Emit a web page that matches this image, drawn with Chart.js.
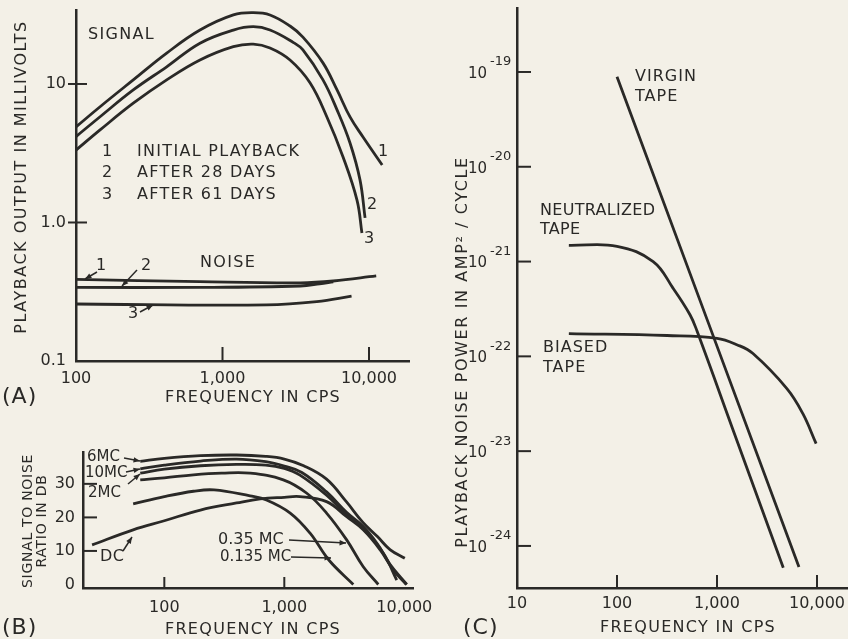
<!DOCTYPE html>
<html>
<head>
<meta charset="utf-8">
<script src="https://cdn.jsdelivr.net/npm/chart.js@4.4.0/dist/chart.umd.min.js"></script>
<style>
  html, body { margin: 0; padding: 0; background: #f3f0e7; }
  #wrap { position: relative; width: 848px; height: 639px; overflow: hidden; }
  #wrap canvas { position: absolute; left: 0; top: 0; }
</style>
</head>
<body>
<div id="wrap">
  <canvas id="chartA" width="848" height="639"></canvas>
  <canvas id="chartB" width="848" height="639"></canvas>
  <canvas id="chartC" width="848" height="639"></canvas>
</div>
<script>
// (A) playback output in millivolts vs frequency
const aSig1Freq = [100, 146, 246, 416, 702, 1186, 1622, 2110, 2890, 3540, 4850, 6050, 7420, 9100, 12300];
const aSig1 = [4.9, 6.85, 10.7, 16.7, 24.5, 31.5, 32.7, 31.5, 26.2, 21.8, 14.2, 9.05, 5.78, 4.14, 2.6];
const aSig2Freq = [100, 146, 246, 416, 702, 1186, 1622, 2110, 3050, 3540, 4850, 6050, 7420, 8680, 9400];
const aSig2 = [4.17, 5.8, 9.05, 13.3, 19.7, 24.5, 25.9, 24.5, 19.9, 17.6, 10.7, 6.5, 3.75, 2.03, 1.08];
const aSig3Freq = [100, 146, 246, 416, 702, 1186, 1622, 2110, 2890, 3955, 5160, 6650, 8280, 8950];
const aSig3 = [3.33, 4.66, 7.26, 10.7, 14.9, 18.6, 19.4, 18.2, 14.9, 10.2, 5.78, 2.97, 1.45, 0.84];
const aNoise1Freq = [100, 700, 3400, 5700, 11200];
const aNoise1 = [0.389, 0.374, 0.367, 0.378, 0.411];
const aNoise2Freq = [100, 700, 3400, 4600, 5700];
const aNoise2 = [0.34, 0.34, 0.348, 0.36, 0.372];
const aNoise3Freq = [100, 2000, 4400, 7600];
const aNoise3 = [0.258, 0.254, 0.268, 0.294];
const aXTicks = [100, 1000, 10000];
const aXTickLabels = ['100', '1,000', '10,000'];
const aYTicks = [0.1, 1, 10];
const aYTickLabels = ['0.1', '1.0', '10'];

// (B) signal to noise ratio in db, one curve per bias frequency
const bFreq6 = [63, 100, 200, 400, 700, 1000, 1450, 2250, 3300, 4500, 6000, 7600, 10100];
const bSnr6 = [36.7, 37.6, 38.4, 38.6, 38.2, 37.4, 35.4, 31.4, 24.6, 18.6, 14.2, 10.4, 7.8];
const bFreq10 = [63, 100, 200, 400, 700, 1000, 1400, 2250, 3300, 4550, 6000, 7600, 10500];
const bSnr10 = [34.5, 35.6, 36.8, 37.4, 36.6, 35.3, 33.4, 27.6, 21.5, 17.3, 12.0, 6.0, 0];
const bFreq2 = [63, 100, 200, 400, 700, 1000, 1350, 2250, 3300, 4550, 6700, 8650];
const bSnr2 = [33.2, 34.4, 35.4, 35.8, 35.6, 34.6, 32.6, 26.6, 20.8, 16.6, 9.3, 1.3];
const bFreq035 = [63, 100, 175, 300, 518, 981, 1540, 2250, 3310, 4550, 6070];
const bSnr035 = [31.2, 31.8, 32.7, 33.2, 33.2, 31.2, 27.2, 21.3, 13.3, 5.3, 0];
const bFreq0135 = [55, 100, 175, 260, 518, 710, 1120, 1640, 2350, 3760];
const bSnr0135 = [24.0, 26.2, 27.8, 28.2, 26.4, 25.2, 21.3, 15.3, 7.3, 0];
const bFreqDC = [25, 55, 100, 200, 400, 630, 1000, 1350, 2250, 3310, 4550, 6300, 8100, 10400];
const bSnrDC = [11.8, 16.3, 19.0, 22.2, 24.3, 25.5, 26.0, 26.2, 24.7, 20.2, 16.3, 10.3, 4.3, 0];
const bXTicks = [100, 1000, 10000];
const bXTickLabels = ['100', '1,000', '10,000'];
const bYTicks = [0, 10, 20, 30];
const bYTickLabels = ['0', '10', '20', '30'];

// (C) playback noise power in amp^2/cycle
const cFreqVirgin = [100, 6600];
const cVirgin = [8.9e-20, 6.0e-25];
const cFreqNeutral = [33, 100, 230, 363, 537, 630, 1500, 4600];
const cNeutral = [1.48e-21, 1.45e-21, 1.0e-21, 5.25e-22, 2.75e-22, 1.86e-22, 1.51e-23, 5.9e-25];
const cFreqBiased = [33, 316, 1000, 1600, 2290, 5000, 7200, 9800];
const cBiased = [1.74e-22, 1.66e-22, 1.55e-22, 1.32e-22, 1.07e-22, 4.57e-23, 2.5e-23, 1.2e-23];
const cXTicks = [10, 100, 1000, 10000];
const cXTickLabels = ['10', '100', '1,000', '10,000'];
const cYTicks = [1e-19, 1e-20, 1e-21, 1e-22, 1e-23, 1e-24];
const cYExp = ['-19', '-20', '-21', '-22', '-23', '-24'];

const W = 848, H = 639;
const ink = '#2a2927';
const fam = '"DejaVu Sans", sans-serif';
Chart.defaults.font.family = fam;
Chart.defaults.color = ink;

function series(xs, ys) {
    return {
        data: xs.map((x, i) => ({ x: x, y: ys[i] })),
        borderColor: ink,
        borderWidth: 2.8,
        pointRadius: 0,
        tension: 0.4,
        fill: false
    };
}

function axis(type, min, max, ticks, labels, size, horizontal, fontSize, pad) {
    return {
        type: type,
        min: min,
        max: max,
        afterBuildTicks: s => { s.ticks = ticks.map(v => ({ value: v })); },
        afterFit: s => {
            if (horizontal) s.height = size; else s.width = size;
            // keep the plot box exactly where it is set
            s.paddingTop = s.paddingBottom = s.paddingLeft = s.paddingRight = 0;
        },
        ticks: {
            display: labels !== null,
            autoSkip: false,
            maxRotation: 0,
            padding: pad,
            font: { size: fontSize },
            callback: (v, i) => labels ? labels[i] : ''
        },
        grid: { display: false, drawTicks: false },
        border: { display: true, color: ink, width: 2.5 }
    };
}

// tick marks drawn inside the axes, plus all lettering on the figure
function makeNotes(n) {
    return {
        id: 'notes',
        afterDraw(chart) {
            const ctx = chart.ctx, xs = chart.scales.x, ys = chart.scales.y;
            ctx.save();
            ctx.strokeStyle = ink;
            ctx.fillStyle = ink;
            ctx.lineWidth = 2;
            (n.xMarks || []).forEach(v => {
                const x = xs.getPixelForValue(v);
                ctx.beginPath(); ctx.moveTo(x, xs.top); ctx.lineTo(x, xs.top - n.xMarkLen); ctx.stroke();
            });
            (n.yMarks || []).forEach(v => {
                const y = ys.getPixelForValue(v);
                ctx.beginPath(); ctx.moveTo(ys.right - (n.yMarkOut || 0), y); ctx.lineTo(ys.right + n.yMarkLen, y); ctx.stroke();
            });
            (n.yExp || []).forEach((e, i) => {
                const y = ys.getPixelForValue(n.yMarks[i]);
                ctx.textBaseline = 'middle';
                ctx.font = '15px ' + fam;
                ctx.textAlign = 'right';
                ctx.fillText('10', ys.right - 30, y + 2);
                ctx.font = '13px ' + fam;
                ctx.textAlign = 'left';
                ctx.fillText(e, ys.right - 27, y - 10);
            });
            ctx.lineWidth = 1.5;
            (n.arrows || []).forEach(a => {
                const [x0, y0] = a[0], [x1, y1] = a[1];
                ctx.beginPath(); ctx.moveTo(x0, y0); ctx.lineTo(x1, y1); ctx.stroke();
                const ang = Math.atan2(y1 - y0, x1 - x0);
                ctx.beginPath();
                ctx.moveTo(x1, y1);
                ctx.lineTo(x1 - 7 * Math.cos(ang - 0.4), y1 - 7 * Math.sin(ang - 0.4));
                ctx.lineTo(x1 - 7 * Math.cos(ang + 0.4), y1 - 7 * Math.sin(ang + 0.4));
                ctx.closePath();
                ctx.fill();
            });
            (n.texts || []).forEach(t => {
                ctx.font = (t.size || 16) + 'px ' + fam;
                ctx.textAlign = t.align || 'left';
                ctx.textBaseline = 'middle';
                ctx.letterSpacing = (t.sp === undefined ? 1.3 : t.sp) + 'px';
                ctx.save();
                ctx.translate(t.at[0], t.at[1]);
                if (t.rot) ctx.rotate(t.rot);
                ctx.fillText(t.t, 0, 0);
                ctx.restore();
            });
            ctx.letterSpacing = '0px';
            ctx.restore();
        }
    };
}

const up = -Math.PI / 2;
const baseOptions = {
    responsive: false,
    animation: false,
    plugins: { legend: { display: false }, tooltip: { enabled: false } }
};

// plot box in page pixels: left, top, right, bottom; y axis width; x axis height
function box(l, t, r, b, yW, xH) {
    return { padding: { left: l - yW, top: t, right: W - r, bottom: H - b - xH } };
}

new Chart(document.getElementById('chartA'), {
    type: 'line',
    data: {
        datasets: [
            series(aSig1Freq, aSig1), series(aSig2Freq, aSig2), series(aSig3Freq, aSig3),
            series(aNoise1Freq, aNoise1), series(aNoise2Freq, aNoise2), series(aNoise3Freq, aNoise3)
        ]
    },
    options: Object.assign({}, baseOptions, {
        layout: box(76, 10, 409, 361, 76, 45),
        scales: {
            x: axis('logarithmic', 100, 18750, aXTicks, aXTickLabels, 45, true, 16, 8),
            y: axis('logarithmic', 0.1, 34.2, aYTicks, aYTickLabels, 76, false, 16, 10)
        }
    }),
    plugins: [makeNotes({
        xMarks: [1000, 10000], xMarkLen: 14,
        yMarks: [1, 10], yMarkOut: 8, yMarkLen: 11,
        arrows: [[[97, 272], [85, 279]], [[137, 270], [122, 286]], [[140, 312], [153, 305]]],
        texts: [
            { t: 'PLAYBACK OUTPUT IN MILLIVOLTS', at: [22, 177], rot: up, align: 'center', sp: 1.5 },
            { t: 'FREQUENCY IN CPS', at: [253, 398], align: 'center' },
            { t: '(A)', at: [2, 397], size: 22, sp: 1 },
            { t: 'SIGNAL', at: [88, 35] },
            { t: '1', at: [107, 152], align: 'center', sp: 0 },
            { t: 'INITIAL PLAYBACK', at: [137, 152] },
            { t: '2', at: [107, 173], align: 'center', sp: 0 },
            { t: 'AFTER 28 DAYS', at: [137, 173] },
            { t: '3', at: [107, 195], align: 'center', sp: 0 },
            { t: 'AFTER 61 DAYS', at: [137, 195] },
            { t: '1', at: [383, 152], align: 'center', sp: 0 },
            { t: '2', at: [372, 205], align: 'center', sp: 0 },
            { t: '3', at: [369, 239], align: 'center', sp: 0 },
            { t: 'NOISE', at: [200, 263] },
            { t: '1', at: [101, 266], align: 'center', sp: 0 },
            { t: '2', at: [146, 266], align: 'center', sp: 0 },
            { t: '3', at: [133, 314], align: 'center', sp: 0 }
        ]
    })]
});

new Chart(document.getElementById('chartB'), {
    type: 'line',
    data: {
        datasets: [
            series(bFreq6, bSnr6), series(bFreq10, bSnr10), series(bFreq2, bSnr2),
            series(bFreq035, bSnr035), series(bFreq0135, bSnr0135), series(bFreqDC, bSnrDC)
        ]
    },
    options: Object.assign({}, baseOptions, {
        layout: box(83, 452, 413, 588, 60, 45),
        scales: {
            x: axis('logarithmic', 21, 11820, bXTicks, bXTickLabels, 45, true, 16, 10),
            y: axis('linear', -1.05, 39.5, bYTicks, bYTickLabels, 60, false, 16, 8)
        }
    }),
    plugins: [makeNotes({
        xMarks: [100, 1000], xMarkLen: 11,
        yMarks: [10, 20, 30], yMarkOut: 1, yMarkLen: 14,
        arrows: [
            [[124, 458], [140, 461]], [[126, 472], [140, 469]], [[128, 484], [140, 474]],
            [[289, 540], [346, 543]], [[291, 557], [331, 558]], [[123, 551], [132, 537]]
        ],
        texts: [
            { t: 'SIGNAL TO NOISE', at: [28, 521], rot: up, align: 'center', size: 14, sp: 0.7 },
            { t: 'RATIO IN DB', at: [42, 521], rot: up, align: 'center', size: 14, sp: 0.7 },
            { t: 'FREQUENCY IN CPS', at: [253, 630], align: 'center' },
            { t: '(B)', at: [2, 628], size: 22, sp: 1 },
            { t: '6MC', at: [87, 457], size: 15, sp: 0 },
            { t: '10MC', at: [85, 473], size: 15, sp: 0 },
            { t: '2MC', at: [88, 493], size: 15, sp: 0 },
            { t: '0.35 MC', at: [218, 540], sp: 0 },
            { t: '0.135 MC', at: [220, 557], size: 15, sp: 0 },
            { t: 'DC', at: [100, 557], sp: 0.5 }
        ]
    })]
});

new Chart(document.getElementById('chartC'), {
    type: 'line',
    data: {
        datasets: [
            series(cFreqVirgin, cVirgin), series(cFreqNeutral, cNeutral), series(cFreqBiased, cBiased)
        ]
    },
    options: Object.assign({}, baseOptions, {
        layout: box(517, 8, 847, 588, 60, 45),
        scales: {
            x: axis('logarithmic', 10, 19950, cXTicks, cXTickLabels, 45, true, 16, 6),
            y: axis('logarithmic', 3.6e-25, 4.73e-19, cYTicks, null, 60, false, 16, 8)
        }
    }),
    plugins: [makeNotes({
        xMarks: [100, 1000, 10000], xMarkLen: 13,
        yMarks: cYTicks, yMarkOut: 0, yMarkLen: 14,
        yExp: cYExp,
        texts: [
            { t: 'PLAYBACK NOISE POWER IN AMP² / CYCLE', at: [463, 352], rot: up, align: 'center', sp: 1.6 },
            { t: 'FREQUENCY IN CPS', at: [688, 628], align: 'center' },
            { t: '(C)', at: [463, 628], size: 22, sp: 1 },
            { t: 'VIRGIN', at: [635, 77], sp: 1 },
            { t: 'TAPE', at: [635, 97], sp: 1 },
            { t: 'NEUTRALIZED', at: [540, 211], sp: 0.3 },
            { t: 'TAPE', at: [540, 230], sp: 0.3 },
            { t: 'BIASED', at: [543, 348], sp: 1 },
            { t: 'TAPE', at: [543, 368], sp: 1 }
        ]
    })]
});
</script>
</body>
</html>
